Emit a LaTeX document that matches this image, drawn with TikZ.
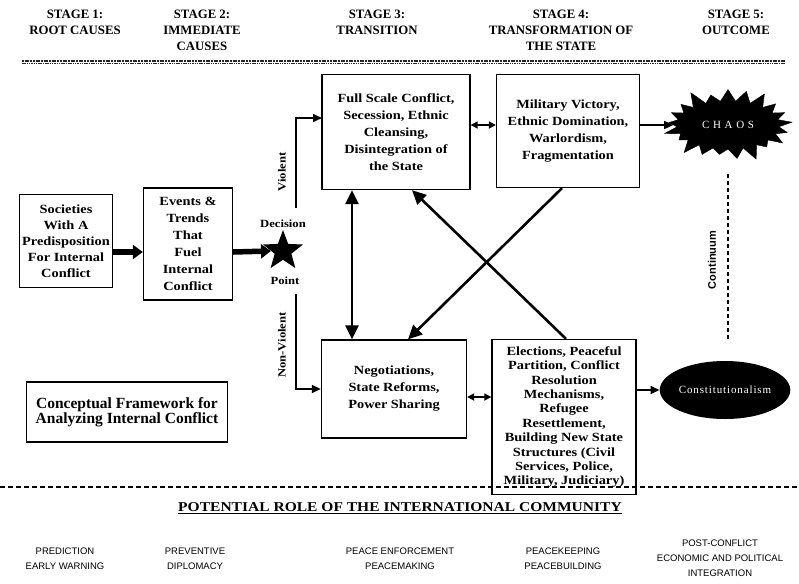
\documentclass[tikz,border=0pt]{standalone}
\usepackage{fontspec}
\setmainfont{Liberation Serif}
\newfontfamily\sansf{Liberation Sans}
\newfontfamily\widef[FakeStretch=1.15]{Liberation Serif}
\usetikzlibrary{shapes.geometric,shapes.symbols,arrows.meta}
\begin{document}
\begin{tikzpicture}[x=1pt,y=-1pt,
 box/.style={draw,line width=1.3pt,align=center,font=\widef\bfseries\fontsize{12.5}{17}\selectfont,inner sep=1pt},
 hdr/.style={align=center,font=\bfseries\fontsize{12.8}{16}\selectfont},
 role/.style={align=center,anchor=north,inner sep=0pt,font=\sansf\fontsize{9.5}{15}\selectfont},
 conn/.style={line width=1.6pt,-{Triangle[length=9pt,width=8pt]}},
 dconn/.style={line width=1.6pt,{Triangle[length=7pt,width=7pt]}-{Triangle[length=7pt,width=7pt]}},
 fat/.style={line width=5.5pt,-{Triangle[length=10pt,width=14pt]}},
 diag/.style={line width=2.6pt,-{Triangle[length=14pt,width=13pt]}},
 vdiag/.style={line width=2.6pt,{Triangle[length=14pt,width=13pt]}-{Triangle[length=14pt,width=13pt]}},
 lbl/.style={font=\widef\bfseries\fontsize{11}{12}\selectfont},
 side/.style={rotate=90,lbl},
]
\useasboundingbox (0,0) rectangle (799,583);

% headers
\node[hdr] (h1) at (75,22) {STAGE 1:\\ROOT CAUSES};
\node[hdr] (h2) at (202,30) {STAGE 2:\\IMMEDIATE\\CAUSES};
\node[hdr] (h3) at (377,22) {STAGE 3:\\TRANSITION};
\node[hdr] (h4) at (561,30) {STAGE 4:\\TRANSFORMATION OF\\THE STATE};
\node[hdr] (h5) at (736,22) {STAGE 5:\\OUTCOME};

\coordinate (sl1) at (22,61); \coordinate (sr1) at (785,61);
\coordinate (sl2) at (22,63.5); \coordinate (sr2) at (785,63.5);
\draw[line width=1.5pt,dash pattern=on 2pt off 0.7pt,black!85] (sl1) -- (sr1);
\draw[line width=1.3pt,dash pattern=on 1.5pt off 0.8pt,black!85] (sl2) -- (sr2);

% boxes
\node[box,minimum width=93pt,minimum height=93pt,font=\widef\bfseries\fontsize{12.5}{16}\selectfont] (A) at (66,241) {Societies\\With A\\Predisposition\\For Internal\\Conflict};
\node[box,minimum width=89pt,minimum height=112pt] (B) at (188,244) {Events \&\\Trends\\That\\Fuel\\Internal\\Conflict};
\node[star,star points=5,star point ratio=2.4,fill=black,minimum size=42pt,inner sep=0pt] (S) at (283,251) {};
\node[lbl] (dec) at (283,224) {Decision};
\node[lbl] (pt) at (285,281) {Point};

\node[box,minimum width=148pt,minimum height=115pt] (C) at (396,132) {Full Scale Conflict,\\Secession, Ethnic\\Cleansing,\\Disintegration of\\the State};
\node[box,minimum width=143pt,minimum height=113pt] (E) at (568,131) {Military Victory,\\Ethnic Domination,\\Warlordism,\\Fragmentation};
\node[box,minimum width=145pt,minimum height=98pt] (D) at (394,389) {Negotiations,\\State Reforms,\\Power Sharing};
\node[box,minimum width=144pt,minimum height=155pt,font=\widef\bfseries\fontsize{12.5}{14.4}\selectfont] (F) at (564,417) {Elections, Peaceful\\Partition, Conflict\\Resolution\\Mechanisms,\\Refugee\\Resettlement,\\Building New State\\Structures (Civil\\Services, Police,\\Military, Judiciary)};
\node[box,minimum width=201pt,minimum height=60pt,font=\bfseries\fontsize{15.5}{15}\selectfont] (G) at (127,412) {Conceptual Framework for\\Analyzing Internal Conflict};

\node[starburst,fill=black,draw=black,minimum width=134pt,minimum height=80pt,starburst points=21,starburst point height=16pt,text=white,inner sep=0pt] (chaos) at (728,125) {\fontsize{11}{12}\selectfont C\,\,H\,\,A\,\,O\,\,S};
\node[ellipse,fill=black,minimum width=122pt,minimum height=58pt,inner sep=0pt,text=white] (K) at (725,390) {\addfontfeature{LetterSpace=8}\fontsize{11}{12}\selectfont Constitutionalism};

% helper coordinates
\coordinate (y125) at (0,125);
\coordinate (y397) at (0,397);
\coordinate (y390) at (0,390);
\coordinate (x352) at (352,0);
\coordinate (x412) at (412,0);
\coordinate (x566) at (566,0);
\coordinate (x562) at (562,0);
\coordinate (x408) at (408,0);
\coordinate (y252) at (0,252);

% fat arrows
\draw[fat] (A.east |- y252) -- (B.west |- y252);
\draw[fat] (B.east |- y252) -- (S.west);

% decision branches
\coordinate (vs) at (296,208);
\coordinate (vi) at (322,118);
\coordinate (ns) at (296,294);
\draw[conn] (vs) |- (vi);
\draw[conn] (ns) |- (D.west);
\node[side] (vl) at (282,172) {Violent};
\node[side] (nvl) at (282,345) {Non-Violent};

% stage arrows
\draw[dconn] (C.east |- y125) -- (E.west |- y125);
\draw[conn] (E.east |- y125) -- (chaos.west);
\draw[dconn] (D.east |- y397) -- (F.west |- y397);
\draw[conn] (F.east |- y390) -- (K.west);
\draw[vdiag] (C.south -| x352) -- (D.north -| x352);
\draw[diag] (F.north -| x566) -- (C.south -| x412);
\draw[diag] (E.south -| x562) -- (D.north -| x408);

% continuum
\coordinate (c1) at (728,174);
\coordinate (c2) at (728,340);
\draw[line width=1.3pt,dash pattern=on 4pt off 3pt] (c1) -- (c2);
\node[rotate=90,font=\sansf\bfseries\fontsize{11}{12}\selectfont] (cl) at (712,260) {Continuum};

% bottom
\coordinate (bl) at (0,487); \coordinate (br) at (799,487);
\draw[line width=1.2pt,dash pattern=on 5pt off 3pt] (bl) -- (br);
\node[font=\widef\bfseries\fontsize{13.5}{15}\selectfont] (T) at (400,508) {\underline{POTENTIAL ROLE OF THE INTERNATIONAL COMMUNITY}};
\node[role] (r1) at (65,544) {\strut PREDICTION\\EARLY WARNING};
\node[role] (r2) at (195,544) {\strut PREVENTIVE\\DIPLOMACY};
\node[role] (r3) at (400,544) {\strut PEACE ENFORCEMENT\\PEACEMAKING};
\node[role] (r4) at (563,544) {\strut PEACEKEEPING\\PEACEBUILDING};
\node[role] (r5) at (720,536) {\strut POST-CONFLICT\\ECONOMIC AND POLITICAL\\INTEGRATION};
\end{tikzpicture}
\end{document}
